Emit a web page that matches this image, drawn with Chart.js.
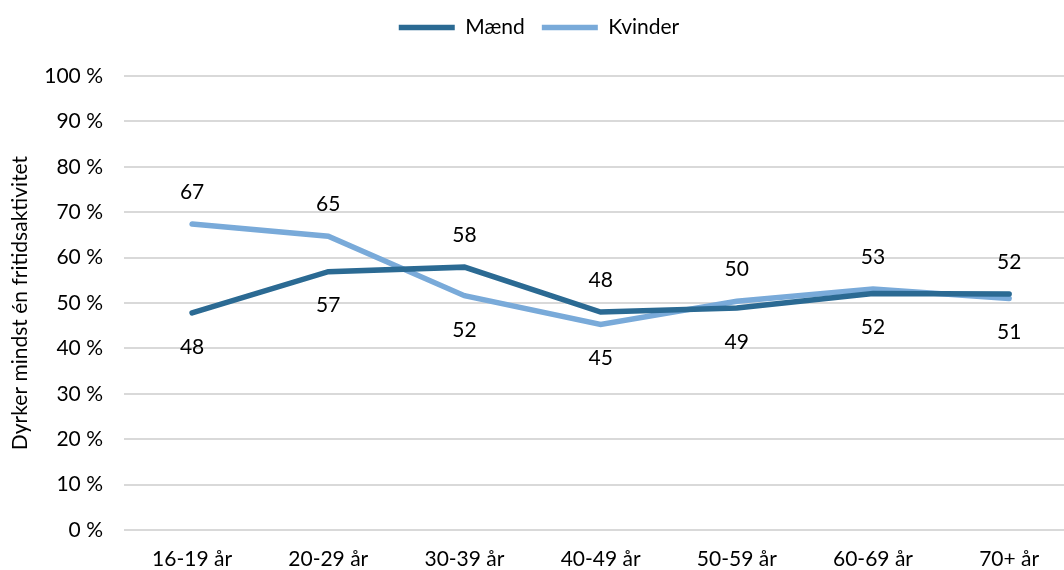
<!DOCTYPE html>
<html>
<head>
<meta charset="utf-8">
<script src="https://cdn.jsdelivr.net/npm/chart.js@4/dist/chart.umd.min.js"></script>
<style>
    html, body { margin: 0; padding: 0; background: #fff; overflow: hidden; }
    #wrap { width: 1080px; height: 570px; }
</style>
</head>
<body>
<div id="wrap"><canvas id="chart" width="1080" height="570"></canvas></div>
<script>
const categories = ['16-19 år', '20-29 år', '30-39 år', '40-49 år', '50-59 år', '60-69 år', '70+ år'];
const maend = [47.8, 56.9, 57.9, 48.0, 48.9, 52.1, 52.0];
const kvinder = [67.4, 64.7, 51.6, 45.3, 50.4, 53.1, 51.0];
const yTicks = [0, 10, 20, 30, 40, 50, 60, 70, 80, 90, 100];

const FONT = 'Lato, "Open Sans", sans-serif';
const SIZE = 21;

// Value labels: the higher series gets its label above, the lower below
const valueLabels = {
    id: 'valueLabels',
    afterDatasetsDraw(chart) {
        const ctx = chart.ctx;
        const a = chart.getDatasetMeta(0).data;
        const b = chart.getDatasetMeta(1).data;
        ctx.save();
        ctx.font = SIZE + 'px ' + FONT;
        ctx.fillStyle = '#000';
        ctx.textAlign = 'center';
        ctx.textBaseline = 'middle';
        categories.forEach((c, i) => {
            const aHigh = maend[i] >= kvinder[i];
            [[a[i], maend[i], aHigh], [b[i], kvinder[i], !aHigh]].forEach(([pt, v, up]) => {
                ctx.fillText(Math.round(v), pt.x, pt.y + (up ? -32 : 34));
            });
        });
        ctx.restore();
    }
};

const chart = new Chart(document.getElementById('chart'), {
    type: 'line',
    data: {
        labels: categories,
        datasets: [
            {
                label: 'Mænd',
                data: maend,
                borderColor: '#2b6a93',
                backgroundColor: '#2b6a93',
                borderWidth: 5.5,
                borderCapStyle: 'round',
                pointRadius: 0,
                tension: 0
            },
            {
                label: 'Kvinder',
                data: kvinder,
                borderColor: '#79aad9',
                backgroundColor: '#79aad9',
                borderWidth: 5.5,
                borderCapStyle: 'round',
                pointRadius: 0,
                tension: 0
            }
        ]
    },
    options: {
        responsive: false,
        animation: false,
        layout: { padding: { top: 0, right: 2, left: 0, bottom: 0 } },
        plugins: {
            legend: {
                position: 'top',
                labels: {
                    usePointStyle: true,
                    pointStyle: 'line',
                    pointStyleWidth: 56,
                    color: '#000',
                    font: { family: FONT, size: SIZE },
                    padding: 17
                }
            },
            tooltip: { enabled: false }
        },
        scales: {
            x: {
                offset: true,
                grid: { display: false },
                border: { display: false },
                afterFit: s => { s.height = 40; },
                ticks: { color: '#000', font: { family: FONT, size: SIZE }, padding: 9 }
            },
            y: {
                min: 0,
                max: 100,
                afterBuildTicks: s => { s.ticks = yTicks.map(v => ({ value: v })); },
                afterFit: s => { s.width = 124; },
                grid: { color: '#d9d9d9', lineWidth: 2, drawTicks: false },
                border: { display: false },
                ticks: {
                    color: '#000',
                    font: { family: FONT, size: SIZE },
                    padding: 21,
                    callback: v => v + ' %'
                },
                title: {
                    display: true,
                    text: 'Dyrker mindst én fritidsaktivitet',
                    color: '#000',
                    font: { family: FONT, size: SIZE },
                    padding: { top: 8, bottom: 0 }
                }
            }
        }
    },
    plugins: [valueLabels]
});

// pin the legend band so the plot starts where the reference's does
const legendFit = chart.legend.fit;
chart.legend.fit = function () { legendFit.call(this); this.height = 76; };
chart.update();
</script>
</body>
</html>
